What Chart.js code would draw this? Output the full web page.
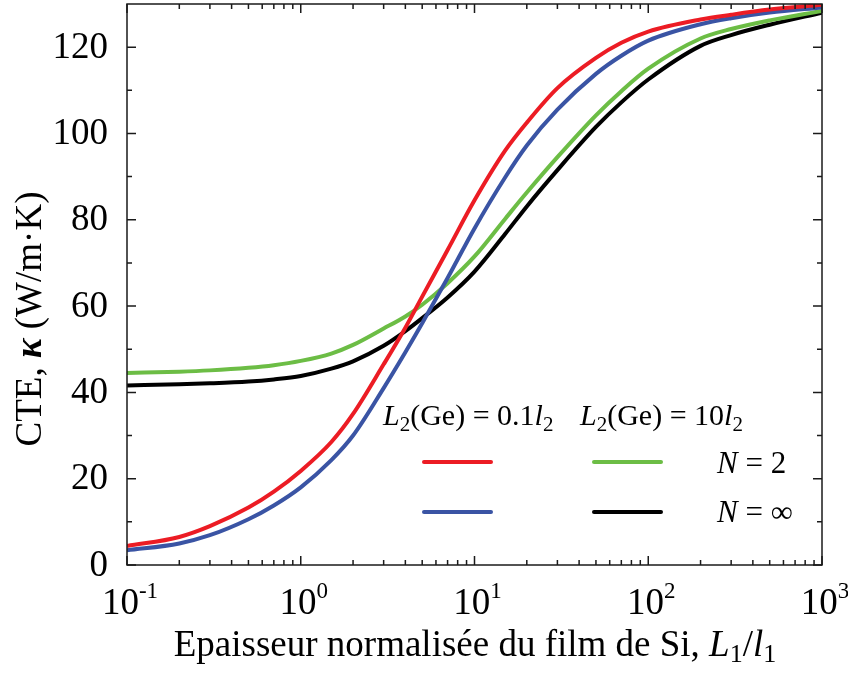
<!DOCTYPE html>
<html>
<head>
<meta charset="utf-8">
<script src="https://cdn.jsdelivr.net/npm/chart.js@4"></script>
<style>
  html, body { margin: 0; padding: 0; background: #fff; }
  #wrap { width: 848px; height: 677px; }
</style>
</head>
<body>
<div id="wrap"><canvas id="cte" width="848" height="677"></canvas></div>
<script>
// normalised Si film thickness L1/l1
const thickness = [0.1, 0.2, 0.3, 0.5, 0.7, 1, 1.5, 2, 3, 4, 5, 7, 10, 15, 20, 30, 50, 70, 100, 200, 300, 500, 1000];

// CTE kappa (W/m.K)
const ge01N2   = [4.4, 6.5, 9.0, 13.3, 17.0, 21.8, 28.5, 35.0, 46.5, 55.0, 62.2, 73.0, 84.5, 96.0, 102.5, 110.5, 117.5, 121.0, 123.6, 126.4, 127.5, 128.7, 129.8];
const ge01Ninf = [3.4, 5.0, 6.9, 10.6, 13.8, 18.0, 24.3, 30.0, 41.0, 49.3, 56.0, 66.5, 78.0, 89.8, 97.2, 105.5, 113.8, 118.0, 121.5, 125.3, 126.7, 128.0, 129.2];
const ge10N2   = [44.5, 44.8, 45.1, 45.7, 46.3, 47.3, 49.0, 51.0, 54.8, 57.6, 60.3, 65.3, 71.5, 80.2, 86.3, 94.5, 104.2, 109.8, 115.0, 122.0, 124.2, 126.2, 128.4];
const ge10Ninf = [41.6, 41.9, 42.1, 42.5, 43.0, 43.8, 45.5, 47.2, 50.8, 54.2, 57.2, 62.0, 68.0, 76.7, 83.1, 91.5, 101.5, 107.2, 112.5, 120.3, 122.8, 125.2, 128.0];

const yMajor = [0, 20, 40, 60, 80, 100, 120];
const yMinor = [10, 30, 50, 70, 90, 110];
const xDecades = [-1, 0, 1, 2, 3];

const RED = '#ec1c24', BLUE = '#3a54a4', GREEN = '#6cbd45', BLACK = '#000000';
const SERIF = '"Liberation Serif", "Times New Roman", serif';

function pts(ys) {
  return thickness.map((x, i) => ({ x: x, y: ys[i] }));
}

function line(label, ys, color) {
  return {
    label: label,
    data: pts(ys),
    borderColor: color,
    backgroundColor: color,
    borderWidth: 4,
    pointRadius: 0,
    cubicInterpolationMode: 'monotone',
    fill: false
  };
}

// draw a row of text pieces (font / vertical shift) starting at x
function runs(ctx, parts, x, y, align) {
  let w = 0;
  parts.forEach(p => { ctx.font = p.font; w += ctx.measureText(p.t).width; });
  let cx = align === 'center' ? x - w / 2 : align === 'right' ? x - w : x;
  ctx.textAlign = 'left';
  ctx.textBaseline = 'alphabetic';
  parts.forEach(p => {
    ctx.font = p.font;
    ctx.fillText(p.t, cx, y + (p.dy || 0));
    cx += ctx.measureText(p.t).width;
  });
}

const f = (size, style) => (style ? style + ' ' : '') + size + 'px ' + SERIF;

const axesPlugin = {
  id: 'axesPlugin',
  afterDatasetsDraw(chart) {
    const ctx = chart.ctx;
    const xs = chart.scales.x, ys = chart.scales.y;
    const a = chart.chartArea;
    ctx.save();
    ctx.strokeStyle = '#1a1a1a';
    ctx.fillStyle = '#000';
    ctx.lineWidth = 1.5;
    ctx.strokeRect(a.left, a.top, a.right - a.left, a.bottom - a.top);

    ctx.beginPath();
    // y ticks, left and right, pointing inward
    yMajor.forEach(v => {
      const py = ys.getPixelForValue(v);
      ctx.moveTo(a.left, py); ctx.lineTo(a.left + 9, py);
      ctx.moveTo(a.right, py); ctx.lineTo(a.right - 9, py);
    });
    yMinor.forEach(v => {
      const py = ys.getPixelForValue(v);
      ctx.moveTo(a.left, py); ctx.lineTo(a.left + 5, py);
      ctx.moveTo(a.right, py); ctx.lineTo(a.right - 5, py);
    });
    // x ticks, bottom and top
    xDecades.forEach(d => {
      const base = Math.pow(10, d);
      const px = xs.getPixelForValue(base);
      ctx.moveTo(px, a.bottom); ctx.lineTo(px, a.bottom - 9);
      ctx.moveTo(px, a.top); ctx.lineTo(px, a.top + 9);
      if (d < 3) {
        for (let m = 2; m <= 9; m++) {
          const mx = xs.getPixelForValue(m * base);
          ctx.moveTo(mx, a.bottom); ctx.lineTo(mx, a.bottom - 5);
          ctx.moveTo(mx, a.top); ctx.lineTo(mx, a.top + 5);
        }
      }
    });
    ctx.stroke();

    // y tick labels
    ctx.font = f(37);
    ctx.textAlign = 'right';
    ctx.textBaseline = 'middle';
    yMajor.forEach(v => ctx.fillText(String(v), a.left - 19, ys.getPixelForValue(v) + 1));

    // x tick labels 10^n
    xDecades.forEach(d => {
      const px = xs.getPixelForValue(Math.pow(10, d));
      runs(ctx, [
        { t: '10', font: f(37) },
        { t: d < 0 ? '-' + (-d) : String(d), font: f(23), dy: -16 }
      ], px + 3, a.bottom + 49, 'center');
    });

    // x title
    runs(ctx, [
      { t: 'Epaisseur normalisée du film de Si, ', font: f(37) },
      { t: 'L', font: f(37, 'italic') },
      { t: '1', font: f(26), dy: 6 },
      { t: '/', font: f(37) },
      { t: 'l', font: f(37, 'italic') },
      { t: '1', font: f(26), dy: 6 }
    ], 475, 656, 'center');

    // y title, rotated
    ctx.save();
    ctx.translate(41, 319);
    ctx.rotate(-Math.PI / 2);
    runs(ctx, [
      { t: 'CTE, ', font: f(37) },
      { t: 'κ', font: f(37, 'italic bold') },
      { t: ' (W/m·K)', font: f(37) }
    ], 0, 0, 'center');
    ctx.restore();

    // legend block
    const hdr = (x, val) => runs(ctx, [
      { t: 'L', font: f(30, 'italic') },
      { t: '2', font: f(21), dy: 6 },
      { t: '(Ge) = ' + val, font: f(30) },
      { t: 'l', font: f(30, 'italic') },
      { t: '2', font: f(21), dy: 6 }
    ], x, 425, 'left');
    hdr(383, '0.1');
    hdr(580, '10');

    const sample = (x0, x1, y, color) => {
      ctx.beginPath();
      ctx.strokeStyle = color;
      ctx.lineWidth = 4;
      ctx.lineCap = 'round';
      ctx.moveTo(x0, y); ctx.lineTo(x1, y);
      ctx.stroke();
    };
    sample(424, 491, 462, RED);
    sample(594, 661, 462, GREEN);
    sample(424, 491, 512, BLUE);
    sample(594, 661, 512, BLACK);

    runs(ctx, [{ t: 'N', font: f(31, 'italic') }, { t: ' = 2', font: f(31) }], 717, 473, 'left');
    runs(ctx, [{ t: 'N', font: f(31, 'italic') }, { t: ' = ∞', font: f(31) }], 717, 522, 'left');

    ctx.restore();
  }
};

new Chart(document.getElementById('cte'), {
  type: 'line',
  data: {
    datasets: [
      line('L2(Ge) = 0.1 l2, N = 2', ge01N2, RED),
      line('L2(Ge) = 0.1 l2, N = ∞', ge01Ninf, BLUE),
      line('L2(Ge) = 10 l2, N = 2', ge10N2, GREEN),
      line('L2(Ge) = 10 l2, N = ∞', ge10Ninf, BLACK)
    ]
  },
  options: {
    responsive: false,
    animation: false,
    layout: { padding: { left: 127, right: 26, top: 4, bottom: 112 } },
    plugins: { legend: { display: false }, tooltip: { enabled: false } },
    scales: {
      x: { type: 'logarithmic', min: 0.1, max: 1000, display: false },
      y: { type: 'linear', min: 0, max: 130, display: false }
    }
  },
  plugins: [axesPlugin]
});
</script>
</body>
</html>
